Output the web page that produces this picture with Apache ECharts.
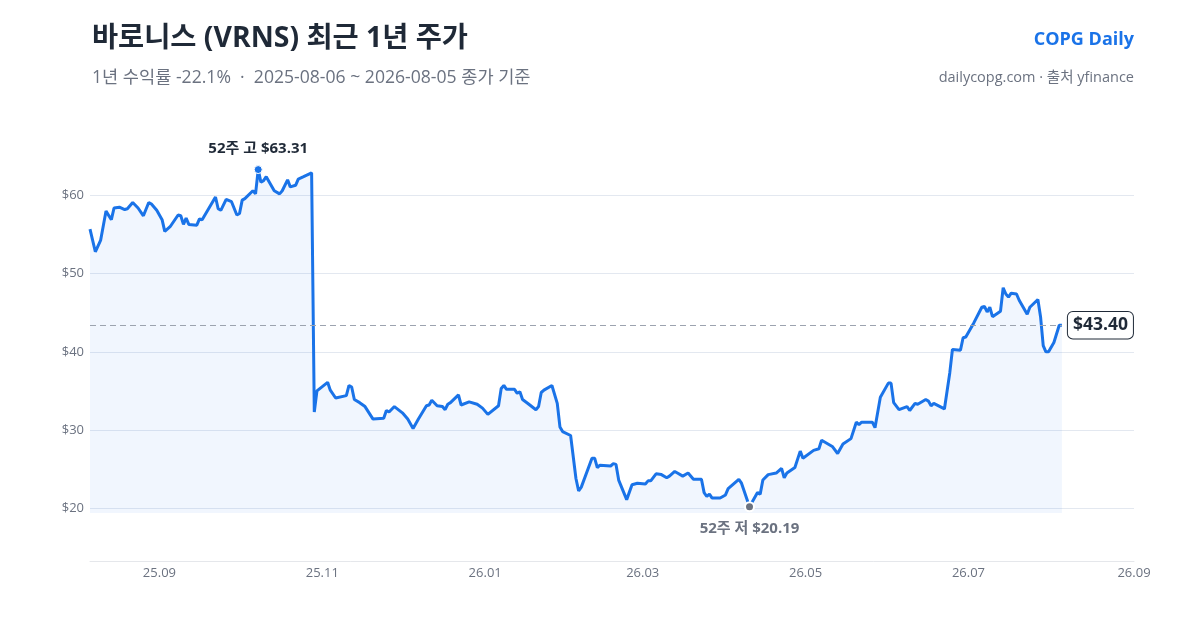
<!DOCTYPE html>
<html lang="ko">
<head>
<meta charset="utf-8">
<title>바로니스 (VRNS) 최근 1년 주가</title>
<script src="https://cdn.jsdelivr.net/npm/echarts@6/dist/echarts.min.js"></script>
<style>
  html, body { margin: 0; padding: 0; background: #fff; }
  #chart { width: 1200px; height: 630px; }
</style>
</head>
<body>
<div id="chart"></div>
<script>
// 종가 (yfinance), 2025-08-06 ~ 2026-08-05
const dates = [
  '2025-08-06', '2025-08-08', '2025-08-10', '2025-08-12', '2025-08-14', '2025-08-15', '2025-08-17', '2025-08-19',
  '2025-08-20', '2025-08-22', '2025-08-24', '2025-08-26', '2025-08-28', '2025-08-29', '2025-08-31', '2025-09-02',
  '2025-09-03', '2025-09-05', '2025-09-08', '2025-09-09', '2025-09-10', '2025-09-11', '2025-09-12', '2025-09-15',
  '2025-09-16', '2025-09-17', '2025-09-22', '2025-09-23', '2025-09-24', '2025-09-26', '2025-09-28', '2025-09-30',
  '2025-10-01', '2025-10-02', '2025-10-03', '2025-10-06', '2025-10-07', '2025-10-08', '2025-10-09', '2025-10-10',
  '2025-10-11', '2025-10-14', '2025-10-16', '2025-10-17', '2025-10-19', '2025-10-20', '2025-10-22', '2025-10-23',
  '2025-10-25', '2025-10-28', '2025-10-29', '2025-10-30', '2025-11-03', '2025-11-04', '2025-11-06', '2025-11-10',
  '2025-11-11', '2025-11-12', '2025-11-13', '2025-11-15', '2025-11-17', '2025-11-20', '2025-11-24', '2025-11-25',
  '2025-11-26', '2025-11-28', '2025-12-01', '2025-12-03', '2025-12-05', '2025-12-07', '2025-12-10', '2025-12-11',
  '2025-12-12', '2025-12-14', '2025-12-16', '2025-12-17', '2025-12-18', '2025-12-19', '2025-12-22', '2025-12-23',
  '2025-12-26', '2025-12-29', '2025-12-31', '2026-01-02', '2026-01-06', '2026-01-07', '2026-01-08', '2026-01-09',
  '2026-01-12', '2026-01-13', '2026-01-14', '2026-01-15', '2026-01-17', '2026-01-20', '2026-01-21', '2026-01-22',
  '2026-01-23', '2026-01-26', '2026-01-28', '2026-01-29', '2026-01-30', '2026-02-02', '2026-02-04', '2026-02-05',
  '2026-02-06', '2026-02-10', '2026-02-11', '2026-02-12', '2026-02-13', '2026-02-17', '2026-02-18', '2026-02-19',
  '2026-02-20', '2026-02-23', '2026-02-25', '2026-02-27', '2026-03-02', '2026-03-03', '2026-03-04', '2026-03-06',
  '2026-03-08', '2026-03-10', '2026-03-11', '2026-03-13', '2026-03-14', '2026-03-16', '2026-03-18', '2026-03-20',
  '2026-03-23', '2026-03-24', '2026-03-25', '2026-03-26', '2026-03-27', '2026-03-30', '2026-04-01', '2026-04-02',
  '2026-04-06', '2026-04-07', '2026-04-10', '2026-04-13', '2026-04-14', '2026-04-15', '2026-04-17', '2026-04-20',
  '2026-04-22', '2026-04-23', '2026-04-24', '2026-04-27', '2026-04-29', '2026-04-30', '2026-05-04', '2026-05-06',
  '2026-05-07', '2026-05-11', '2026-05-13', '2026-05-15', '2026-05-18', '2026-05-20', '2026-05-21', '2026-05-22',
  '2026-05-26', '2026-05-27', '2026-05-29', '2026-06-01', '2026-06-02', '2026-06-03', '2026-06-05', '2026-06-08',
  '2026-06-09', '2026-06-11', '2026-06-12', '2026-06-15', '2026-06-16', '2026-06-17', '2026-06-18', '2026-06-22',
  '2026-06-24', '2026-06-25', '2026-06-28', '2026-06-29', '2026-06-30', '2026-07-03', '2026-07-06', '2026-07-07',
  '2026-07-08', '2026-07-09', '2026-07-10', '2026-07-13', '2026-07-14', '2026-07-15', '2026-07-16', '2026-07-17',
  '2026-07-19', '2026-07-20', '2026-07-23', '2026-07-24', '2026-07-27', '2026-07-28', '2026-07-29', '2026-07-30',
  '2026-07-31', '2026-08-02', '2026-08-04', '2026-08-05'
]
const closes = [
  55.7, 52.8, 54.3, 58.0, 56.9, 58.4, 58.5, 58.2,
  58.3, 59.1, 58.4, 57.4, 59.1, 58.9, 58.1, 56.9,
  55.4, 56.0, 57.5, 57.4, 56.3, 57.1, 56.3, 56.2,
  57.0, 56.9, 59.8, 58.3, 58.1, 59.5, 59.2, 57.5,
  57.7, 59.4, 59.6, 60.6, 60.2, 63.31, 61.7, 61.9,
  62.4, 60.6, 60.2, 60.6, 62.0, 61.1, 61.3, 62.1,
  62.4, 62.9, 32.3, 35.0, 36.1, 35.1, 34.1, 34.4,
  35.7, 35.5, 33.9, 33.5, 33.0, 31.4, 31.5, 32.5,
  32.3, 33.0, 32.2, 31.4, 30.2, 31.4, 33.1, 33.2,
  33.8, 33.1, 33.0, 32.6, 33.3, 33.5, 34.5, 33.2,
  33.6, 33.3, 32.8, 32.0, 33.1, 35.3, 35.7, 35.2,
  35.2, 34.7, 34.9, 33.9, 33.4, 32.6, 33.0, 34.8,
  35.1, 35.7, 33.4, 30.4, 29.8, 29.3, 23.8, 22.2,
  22.7, 26.4, 26.4, 25.2, 25.5, 25.4, 25.7, 25.6,
  23.6, 21.1, 23.0, 23.2, 23.1, 23.5, 23.5, 24.4,
  24.3, 23.9, 24.1, 24.7, 24.5, 24.1, 24.5, 23.7,
  23.7, 22.0, 21.5, 21.8, 21.3, 21.3, 21.7, 22.5,
  23.7, 23.2, 20.19, 22.0, 21.8, 23.6, 24.3, 24.5,
  25.1, 23.9, 24.5, 25.2, 27.3, 26.4, 27.4, 27.6,
  28.7, 27.9, 27.0, 28.2, 28.9, 31.0, 30.7, 31.0,
  31.0, 30.3, 34.2, 36.0, 36.0, 33.5, 32.6, 33.0,
  32.5, 33.4, 33.3, 33.9, 33.7, 33.1, 33.4, 32.7,
  37.3, 40.3, 40.2, 41.8, 41.9, 43.7, 45.7, 45.8,
  45.1, 45.7, 44.5, 45.2, 48.2, 47.4, 47.0, 47.5,
  47.4, 46.6, 44.8, 45.7, 46.7, 44.5, 40.8, 40.0,
  40.0, 41.2, 43.4, 43.40
]

// x축 눈금
const tickDates = ['2025-09-01', '2025-11-01', '2026-01-01', '2026-03-01', '2026-05-01', '2026-07-01', '2026-09-01']
const tickLabels = ['25.09', '25.11', '26.01', '26.03', '26.05', '26.07', '26.09']

const toTs = s => {
  const [y, m, d] = s.split('-').map(Number)
  return Date.UTC(y, m - 1, d)
}

const seriesData = dates.map((d, i) => [toTs(d), closes[i]])
const tickTs = tickDates.map(toTs)
const first = seriesData[0]
const last = seriesData[seriesData.length - 1]
const low = Math.min(...closes)

const FONT = '"Open Sans", "Noto Sans CJK KR", sans-serif'
const BLUE = '#1a73e8'

const chart = echarts.init(document.getElementById('chart'), null, { renderer: 'canvas' })

const option = {
  backgroundColor: '#ffffff',
  animation: false,
  textStyle: { fontFamily: FONT },
  title: [
    {
      text: '바로니스 (VRNS) 최근 1년 주가',
      left: 87,
      top: 20,
      textStyle: { fontSize: 28.4, fontWeight: 'bold', color: '#1f2937', fontFamily: FONT }
    },
    {
      text: '1년 수익률 -22.1%  ·  2025-08-06 ~ 2026-08-05 종가 기준',
      left: 87,
      top: 64,
      textStyle: { fontSize: 17.6, fontWeight: 'normal', color: '#6b7280', fontFamily: FONT }
    },
    {
      text: 'COPG Daily',
      right: 61,
      top: 26,
      textStyle: { fontSize: 18, fontWeight: 'bold', color: BLUE, fontFamily: FONT }
    },
    {
      text: 'dailycopg.com · 출처 yfinance',
      right: 61,
      top: 66,
      textStyle: { fontSize: 14.5, fontWeight: 'normal', color: '#6b7280', fontFamily: FONT }
    }
  ],
  grid: {
    left: 90,
    right: 66,
    top: 129,
    bottom: 69,
    containLabel: false
  },
  // 날짜는 타임스탬프 값 축으로 그림 (라벨은 tickDates 위치에만)
  xAxis: {
    type: 'value',
    min: toTs('2025-08-06'),
    max: toTs('2026-09-01'),
    axisLine: { onZero: false, lineStyle: { color: '#e5e7eb', width: 1 } },
    axisTick: { show: false },
    splitLine: { show: false },
    axisLabel: {
      customValues: tickTs,
      color: '#6b7280',
      fontSize: 13,
      margin: 6,
      fontFamily: FONT,
      formatter: v => {
        const i = tickTs.indexOf(v)
        return i >= 0 ? tickLabels[i] : ''
      }
    }
  },
  yAxis: {
    type: 'value',
    min: 13.25,
    max: 68.5,
    minInterval: 10,
    maxInterval: 10,
    axisLine: { show: false },
    axisTick: { show: false },
    splitLine: {
      showMinLine: false,
      showMaxLine: false,
      lineStyle: { color: '#e3e8f0', width: 1 }
    },
    axisLabel: {
      showMinLabel: false,
      showMaxLabel: false,
      color: '#6b7280',
      fontSize: 13,
      margin: 6,
      fontFamily: FONT,
      formatter: v => '$' + v
    }
  },
  series: [
    {
      type: 'line',
      data: seriesData,
      showSymbol: false,
      smooth: false,
      lineStyle: { color: BLUE, width: 3 },
      itemStyle: { color: BLUE },
      areaStyle: {
        origin: low * 0.96,
        color: 'rgba(26, 115, 232, 0.09)'
      },
      markLine: {
        silent: true,
        symbol: ['none', 'none'],
        lineStyle: { color: '#9ca3af', type: [6, 4], width: 1 },
        label: {
          position: 'end',
          distance: 6,
          formatter: '$' + last[1].toFixed(2),
          color: '#1f2937',
          fontSize: 17.5,
          fontWeight: 'bold',
          fontFamily: FONT,
          backgroundColor: '#ffffff',
          borderColor: '#1f2937',
          borderWidth: 1,
          borderRadius: 5,
          padding: [5, 5, 4, 5]
        },
        data: [[{ coord: [first[0], last[1]] }, { coord: [last[0], last[1]] }]]
      },
      markPoint: {
        silent: true,
        symbol: 'circle',
        data: [
          {
            type: 'max',
            symbolSize: 8,
            itemStyle: { color: BLUE, borderColor: '#ffffff', borderWidth: 1 },
            label: {
              position: 'top',
              distance: 9,
              formatter: p => '52주 고 $' + p.value.toFixed(2),
              color: '#1f2937',
              fontSize: 15,
              fontWeight: 'bold',
              fontFamily: FONT
            }
          },
          {
            type: 'min',
            symbolSize: 9,
            itemStyle: { color: '#6b7280', borderColor: '#ffffff', borderWidth: 2 },
            label: {
              position: 'bottom',
              distance: 9,
              formatter: p => '52주 저 $' + p.value.toFixed(2),
              color: '#6b7280',
              fontSize: 15,
              fontWeight: 'bold',
              fontFamily: FONT
            }
          }
        ]
      }
    }
  ]
}

chart.setOption(option)
</script>
</body>
</html>
